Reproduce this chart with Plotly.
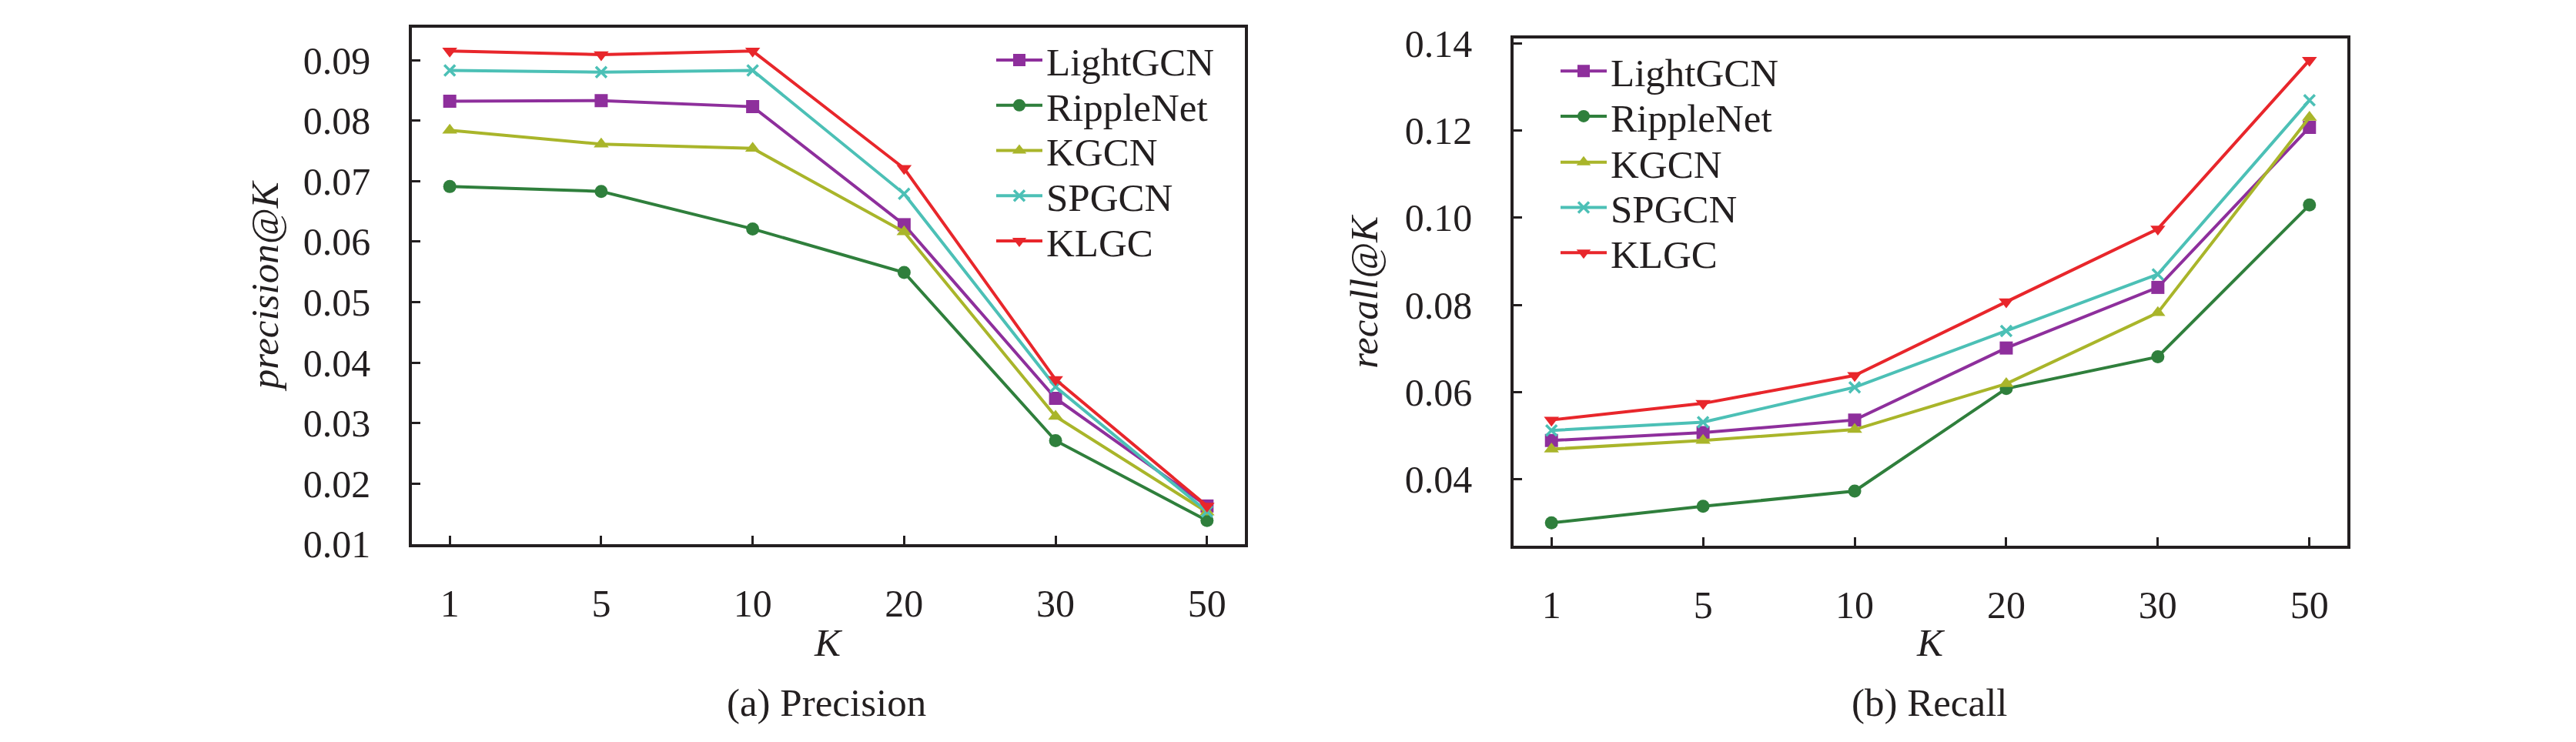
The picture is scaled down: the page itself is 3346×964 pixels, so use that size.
import plotly.graph_objects as go

# -- data
k_labels = ["1", "5", "10", "20", "30", "50"]
models = ["LightGCN", "RippleNet", "KGCN", "SPGCN", "KLGC"]

precision_lightgcn = [0.0832, 0.0833, 0.0823, 0.0628, 0.0341, 0.0163]
precision_ripplenet = [0.0691, 0.0683, 0.0621, 0.0549, 0.0271, 0.0139]
precision_kgcn = [0.0784, 0.0761, 0.0754, 0.0616, 0.0311, 0.0153]
precision_spgcn = [0.0883, 0.0880, 0.0883, 0.0679, 0.0360, 0.0154]
precision_klgc = [0.0915, 0.0909, 0.0915, 0.0721, 0.0372, 0.0163]

recall_lightgcn = [0.0489, 0.0507, 0.0536, 0.0701, 0.0840, 0.1207]
recall_ripplenet = [0.0300, 0.0338, 0.0373, 0.0608, 0.0681, 0.1029]
recall_kgcn = [0.0469, 0.0489, 0.0514, 0.0619, 0.0782, 0.1230]
recall_spgcn = [0.0512, 0.0531, 0.0611, 0.0740, 0.0870, 0.1269]
recall_klgc = [0.0536, 0.0574, 0.0638, 0.0807, 0.0974, 0.1361]

precision = [precision_lightgcn, precision_ripplenet, precision_kgcn, precision_spgcn, precision_klgc]
recall = [recall_lightgcn, recall_ripplenet, recall_kgcn, recall_spgcn, recall_klgc]

colors = ["#8e2f9c", "#2f7f3c", "#a9b52a", "#4cc0b6", "#e8262b"]
symbols = ["square", "circle", "triangle-up", "x-thin", "triangle-down"]

FONT = "Liberation Serif, Times New Roman, serif"
INK = "#231f20"
W, H = 3346, 964

# legend rows (pixel centres) for the two panels, one legend box per entry
legend_x = [1281, 2014]
legend_rows = [[52, 114, 176, 238, 300], [67, 129, 192, 254, 316]]

fig = go.Figure()
legends = {}
n = 0
for panel, series in enumerate([precision, recall]):
    for i, (name, vals, col, sym) in enumerate(zip(models, series, colors, symbols)):
        n += 1
        key = "legend" if n == 1 else f"legend{n}"
        legends[key] = dict(
            x=legend_x[panel] / W, y=1 - legend_rows[panel][i] / H,
            xanchor="left", yanchor="middle",
            bgcolor="rgba(0,0,0,0)", itemwidth=60,
            font=dict(family=FONT, size=51, color=INK),
        )
        fig.add_trace(
            go.Scatter(
                x=k_labels,
                y=vals,
                name=name,
                mode="lines+markers",
                line=dict(color=col, width=4),
                marker=dict(
                    symbol=sym,
                    size=17 if sym != "x-thin" else 14,
                    color=col,
                    line=dict(color=col, width=3.5 if sym == "x-thin" else 0),
                ),
                xaxis="x" if panel == 0 else "x2",
                yaxis="y" if panel == 0 else "y2",
                legend=key,
            )
        )

axis_common = dict(
    showline=True,
    linecolor=INK,
    linewidth=3.5,
    mirror=True,
    ticks="inside",
    ticklen=11,
    tickwidth=3,
    tickcolor=INK,
    showgrid=False,
    zeroline=False,
    tickfont=dict(family=FONT, size=50, color=INK),
)

fig.update_layout(
    width=W,
    height=H,
    margin=dict(l=0, r=0, t=0, b=0),
    paper_bgcolor="white",
    plot_bgcolor="white",
    font=dict(family=FONT, size=50, color=INK),
    xaxis=dict(axis_common, domain=[527 / W, 1609 / W], type="category",
               range=[-0.25, 5.25], ticklabelstandoff=30, anchor="y"),
    yaxis=dict(axis_common, domain=[1 - 715 / H, 1 - 7 / H], range=[0.01, 0.0954],
               tick0=0.01, dtick=0.01, tickformat=".2f", ticklabelstandoff=40, anchor="x"),
    xaxis2=dict(axis_common, domain=[1958 / W, 3041 / W], type="category",
                range=[-0.25, 5.25], ticklabelstandoff=30, anchor="y2"),
    yaxis2=dict(axis_common, domain=[1 - 717 / H, 1 - 22 / H], range=[0.0248, 0.1411],
                tick0=0.04, dtick=0.02, tickformat=".2f", ticklabelstandoff=40, anchor="x2"),
    showlegend=True,
    **legends,
)

# -- axis titles and panel captions
labels = [
    dict(text="<i>precision@K</i>", x=336 / W, y=1 - 361 / H, textangle=-90),
    dict(text="<i>recall@K</i>", x=1764 / W, y=1 - 369 / H, textangle=-90),
    dict(text="<i>K</i>", x=1068 / W, y=1 - 850 / H, textangle=0),
    dict(text="<i>K</i>", x=2500 / W, y=1 - 850 / H, textangle=0),
    dict(text="(a) Precision", x=1065 / W, y=1 - 932 / H, textangle=0),
    dict(text="(b) Recall", x=2498 / W, y=1 - 932 / H, textangle=0),
]
for lab in labels:
    fig.add_annotation(
        xref="paper", yref="paper", xanchor="center", yanchor="middle",
        showarrow=False, font=dict(family=FONT, size=51, color=INK), **lab
    )

fig.write_html("out.html")
